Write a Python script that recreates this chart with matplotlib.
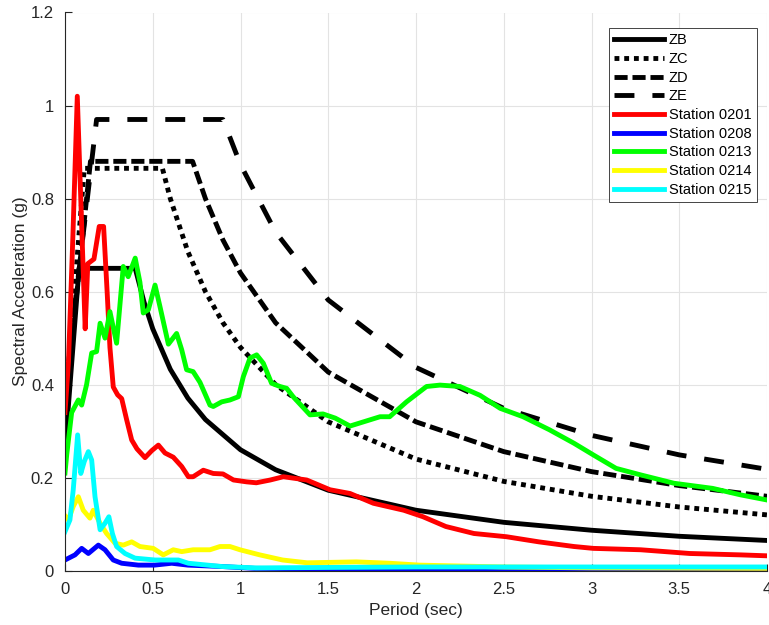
import numpy as np
import matplotlib
matplotlib.use("Agg")
import matplotlib.pyplot as plt
from matplotlib.ticker import FuncFormatter

plt.rcParams['font.family'] = ['Liberation Sans', 'DejaVu Sans']

# design spectra (period in sec, Sa in g)
zb_t = [0, 0.08, 0.4, 0.45, 0.5, 0.6, 0.7, 0.8, 1.0, 1.2, 1.5, 2.0, 2.5, 3.0, 3.5, 4.0]
zb_sa = [0.26, 0.65, 0.65, 0.578, 0.52, 0.433, 0.371, 0.325, 0.26, 0.217, 0.173, 0.13, 0.104, 0.087, 0.074, 0.065]

zc_t = [0, 0.11, 0.555, 0.6, 0.7, 0.8, 0.9, 1.0, 1.2, 1.5, 2.0, 2.5, 3.0, 3.5, 4.0]
zc_sa = [0.346, 0.865, 0.865, 0.80, 0.686, 0.60, 0.533, 0.48, 0.40, 0.32, 0.24, 0.192, 0.16, 0.137, 0.12]

zd_t = [0, 0.145, 0.727, 0.8, 0.9, 1.0, 1.2, 1.5, 2.0, 2.5, 3.0, 3.5, 4.0]
zd_sa = [0.352, 0.88, 0.88, 0.80, 0.711, 0.64, 0.533, 0.427, 0.32, 0.256, 0.213, 0.183, 0.16]

ze_t = [0, 0.18, 0.9, 1.0, 1.2, 1.5, 2.0, 2.5, 3.0, 3.5, 4.0]
ze_sa = [0.388, 0.97, 0.97, 0.873, 0.728, 0.582, 0.437, 0.349, 0.291, 0.249, 0.218]

# recorded station spectra
s0201_t = [0, 0.02, 0.045, 0.07, 0.115, 0.13, 0.165, 0.195, 0.22, 0.24, 0.256, 0.275, 0.3,
           0.323, 0.351, 0.38, 0.41, 0.456, 0.494, 0.532, 0.57, 0.617, 0.665, 0.703, 0.73,
           0.788, 0.845, 0.9, 0.96, 1.035, 1.09, 1.17, 1.244, 1.377, 1.51, 1.624, 1.757,
           1.93, 2.04, 2.17, 2.33, 2.516, 2.7, 2.9, 3.01, 3.28, 3.56, 3.85, 4.0]
s0201_sa = [0.34, 0.45, 0.72, 1.02, 0.52, 0.66, 0.67, 0.74, 0.74, 0.60, 0.48, 0.395, 0.378,
            0.37, 0.325, 0.281, 0.262, 0.243, 0.258, 0.270, 0.253, 0.244, 0.224, 0.202, 0.202,
            0.216, 0.209, 0.208, 0.195, 0.191, 0.189, 0.195, 0.202, 0.195, 0.174, 0.166, 0.145,
            0.130, 0.116, 0.095, 0.080, 0.073, 0.062, 0.052, 0.048, 0.045, 0.037, 0.034, 0.032]

s0208_t = [0, 0.057, 0.095, 0.133, 0.19, 0.228, 0.275, 0.323, 0.418, 0.51, 0.608, 0.7,
           0.893, 1.08, 1.5, 2.0, 3.0, 4.0]
s0208_sa = [0.023, 0.034, 0.048, 0.037, 0.055, 0.045, 0.023, 0.016, 0.012, 0.012, 0.016, 0.012,
            0.009, 0.005, 0.004, 0.003, 0.002, 0.002]

s0213_t = [0, 0.01, 0.038, 0.076, 0.095, 0.123, 0.152, 0.18, 0.2, 0.228, 0.256, 0.294, 0.332,
           0.36, 0.4, 0.427, 0.446, 0.475, 0.513, 0.541, 0.589, 0.636, 0.665, 0.693, 0.73,
           0.769, 0.826, 0.845, 0.893, 0.94, 0.988, 1.016, 1.054, 1.092, 1.13, 1.177, 1.225,
           1.263, 1.3, 1.396, 1.47, 1.54, 1.624, 1.795, 1.85, 1.946, 2.06, 2.137, 2.25, 2.365,
           2.48, 2.61, 2.76, 2.9, 3.01, 3.14, 3.28, 3.47, 3.69, 3.85, 4.0]
s0213_sa = [0.21, 0.25, 0.34, 0.367, 0.356, 0.40, 0.468, 0.471, 0.532, 0.50, 0.557, 0.489, 0.654,
            0.632, 0.672, 0.62, 0.554, 0.561, 0.614, 0.568, 0.487, 0.51, 0.475, 0.432, 0.428,
            0.405, 0.356, 0.353, 0.363, 0.367, 0.374, 0.417, 0.457, 0.464, 0.446, 0.403, 0.396,
            0.392, 0.374, 0.335, 0.337, 0.328, 0.311, 0.331, 0.331, 0.363, 0.396, 0.399, 0.396, 0.377,
            0.349, 0.331, 0.303, 0.274, 0.249, 0.22, 0.206, 0.188, 0.177, 0.163, 0.152]

s0214_t = [0, 0.019, 0.047, 0.076, 0.104, 0.142, 0.161, 0.2, 0.237, 0.285, 0.332, 0.38, 0.427,
           0.503, 0.56, 0.617, 0.665, 0.73, 0.826, 0.883, 0.94, 0.997, 1.11, 1.24, 1.38, 1.66,
           1.85, 2.02, 2.5, 3.0, 4.0]
s0214_sa = [0.118, 0.109, 0.138, 0.159, 0.13, 0.113, 0.13, 0.102, 0.08, 0.059, 0.055, 0.062, 0.052,
            0.048, 0.034, 0.045, 0.041, 0.045, 0.045, 0.052, 0.052, 0.045, 0.034, 0.023, 0.017, 0.019,
            0.016, 0.012, 0.008, 0.006, 0.005]

s0215_t = [0, 0.028, 0.047, 0.072, 0.09, 0.11, 0.133, 0.152, 0.171, 0.2, 0.228, 0.25, 0.27,
           0.294, 0.342, 0.399, 0.513, 0.646, 0.703, 0.893, 1.09, 1.5, 2.0, 3.0, 4.0]
s0215_sa = [0.084, 0.109, 0.174, 0.292, 0.209, 0.235, 0.256, 0.238, 0.159, 0.088, 0.102, 0.116, 0.08,
            0.052, 0.037, 0.027, 0.023, 0.023, 0.016, 0.009, 0.006, 0.007, 0.008, 0.008, 0.008]

text_col = "#262626"
lw = 3.5

fig = plt.figure(figsize=(7.69, 6.25), dpi=100)
ax = fig.add_axes([65 / 769, 54.3 / 625, 702 / 769, 558.2 / 625])

kw = dict(lw=lw, solid_joinstyle="round", dash_capstyle="butt")
ax.plot(zb_t, zb_sa, color="k", ls="-", label="ZB", **kw)
ax.plot(zc_t, zc_sa, color="k", ls=(0, (1.0, 1.0)), label="ZC", **kw)
ax.plot(zd_t, zd_sa, color="k", ls=(0, (2.7, 1.0)), label="ZD", **kw)
ax.plot(ze_t, ze_sa, color="k", ls=(0, (4.1, 3.7)), label="ZE", **kw)

ax.plot(s0201_t, s0201_sa, color=(1, 0, 0), label="Station 0201", **kw)
ax.plot(s0208_t, s0208_sa, color=(0, 0, 1), label="Station 0208", **kw)
ax.plot(s0213_t, s0213_sa, color=(0, 1, 0), label="Station 0213", **kw)
ax.plot(s0214_t, s0214_sa, color=(1, 1, 0), label="Station 0214", **kw)
ax.plot(s0215_t, s0215_sa, color=(0, 1, 1), label="Station 0215", **kw)

ax.set_xlim(0, 4)
ax.set_ylim(0, 1.2)
ax.set_xticks(np.arange(0, 4.01, 0.5))
ax.set_yticks(np.arange(0, 1.21, 0.2))
fmt = FuncFormatter(lambda v, p: "%g" % round(v, 2))
ax.xaxis.set_major_formatter(fmt)
ax.yaxis.set_major_formatter(fmt)

ax.grid(True, color="#e3e3e3", lw=0.8)
ax.set_axisbelow(True)
for s in ["top", "right"]:
    ax.spines[s].set_visible(False)
for s in ["left", "bottom"]:
    ax.spines[s].set_color(text_col)
    ax.spines[s].set_linewidth(0.8)
ax.tick_params(direction="in", length=5, width=0.8, colors=text_col,
               labelsize=12, pad=8)

ax.set_xlabel("Period (sec)", fontsize=12.5, color=text_col)
ax.set_ylabel("Spectral Acceleration (g)", fontsize=12.5, color=text_col)
ax.xaxis.set_label_coords(0.5, -0.058)
ax.yaxis.set_label_coords(-0.052, 0.5)

leg = ax.legend(loc="upper right", bbox_to_anchor=(756.7 / 769, 1 - 28.3 / 625),
                bbox_transform=fig.transFigure, borderaxespad=0, fontsize=10.5,
                handlelength=3.4, handletextpad=0.35, labelspacing=0.32, borderpad=0.35,
                fancybox=False, framealpha=1, edgecolor=text_col)
leg.get_frame().set_linewidth(0.6)

fig.savefig("out.png", dpi=100)
